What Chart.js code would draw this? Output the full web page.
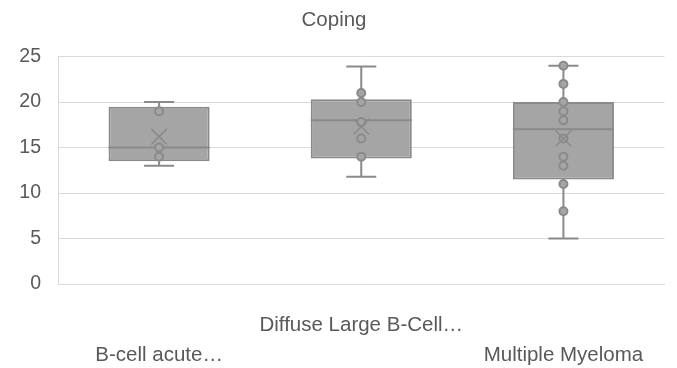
<!DOCTYPE html>
<html>
<head>
<meta charset="utf-8">
<script src="https://cdn.jsdelivr.net/npm/chart.js@4"></script>
<style>
  html, body { margin: 0; padding: 0; background: #fff; }
  #wrap { width: 677px; height: 368px; }
</style>
</head>
<body>
<div id="wrap"><canvas id="chart"></canvas></div>
<script>
// categories + box stats
const categories = ['B-cell acute…', 'Diffuse Large B-Cell…', 'Multiple Myeloma'];
const minValues = [13, 11.8, 5];
const q1Values = [13.5, 13.8, 11.5];
const medianValues = [15, 18, 17];
const q3Values = [19.5, 20.3, 20];
const maxValues = [20, 23.9, 24];
const meanValues = [16.2, 17.3, 16];
// inner points per category
const pointsBcell = [14, 15, 19];
const pointsDiffuse = [14, 16, 17.8, 20, 21];
const pointsMyeloma = [8, 11, 13, 14, 16, 18, 19, 20, 22, 24];
const yTicks = [0, 5, 10, 15, 20, 25];

const FILL = '#a5a5a5';
const EDGE = '#8a8a8a';
const TEXT = '#595959';
const GRID = '#d9d9d9';
const FONT = "'Liberation Sans', Arial, sans-serif";

// staggered labels like Excel does
const xLabels = categories.map((c, i) => i % 2 === 1 ? [c, ''] : ['', c]);

// points go on a hidden linear x axis lined up with the category centres
const pointData = [];
[pointsBcell, pointsDiffuse, pointsMyeloma].forEach((arr, i) => {
    arr.forEach(v => pointData.push({ x: i, y: v }));
});

// whiskers + median, drawn right after the boxes so points sit on top
const whiskerPlugin = {
    id: 'whiskers',
    afterDatasetDraw(chart, args) {
        if (args.index !== 2) return;
        const ctx = chart.ctx;
        const y = chart.scales.y;
        const meta = chart.getDatasetMeta(2);
        ctx.save();
        ctx.strokeStyle = EDGE;
        ctx.lineWidth = 2;
        meta.data.forEach((bar, i) => {
            const x = bar.x;
            const half = bar.width / 2;
            const cap = 15;
            ctx.beginPath();
            // upper whisker
            ctx.moveTo(x, y.getPixelForValue(q3Values[i]));
            ctx.lineTo(x, y.getPixelForValue(maxValues[i]));
            ctx.moveTo(x - cap, y.getPixelForValue(maxValues[i]));
            ctx.lineTo(x + cap, y.getPixelForValue(maxValues[i]));
            // lower whisker
            ctx.moveTo(x, y.getPixelForValue(q1Values[i]));
            ctx.lineTo(x, y.getPixelForValue(minValues[i]));
            ctx.moveTo(x - cap, y.getPixelForValue(minValues[i]));
            ctx.lineTo(x + cap, y.getPixelForValue(minValues[i]));
            // median
            ctx.moveTo(x - half, y.getPixelForValue(medianValues[i]));
            ctx.lineTo(x + half, y.getPixelForValue(medianValues[i]));
            ctx.stroke();
        });
        ctx.restore();
    }
};

new Chart(document.getElementById('chart'), {
    type: 'bar',
    data: {
        labels: xLabels,
        datasets: [
            {
                type: 'line',
                label: 'Mean',
                xAxisID: 'xp',
                data: meanValues.map((v, i) => ({ x: i, y: v })),
                showLine: false,
                pointStyle: 'crossRot',
                pointRadius: 11,
                borderColor: EDGE,
                borderWidth: 1.5,
                order: 0
            },
            {
                type: 'line',
                label: 'Points',
                xAxisID: 'xp',
                data: pointData,
                showLine: false,
                pointRadius: 4,
                backgroundColor: FILL,
                borderColor: EDGE,
                borderWidth: 2,
                order: 1
            },
            {
                label: 'Box',
                xAxisID: 'x',
                data: q1Values.map((q, i) => [q, q3Values[i]]),
                backgroundColor: FILL,
                borderColor: EDGE,
                borderWidth: 2,
                borderSkipped: false,
                barPercentage: 0.5,
                categoryPercentage: 1,
                grouped: false,
                order: 2
            }
        ]
    },
    options: {
        responsive: true,
        maintainAspectRatio: false,
        animation: false,
        layout: { padding: { left: 0, right: 9, top: 0, bottom: 0 } },
        plugins: {
            legend: { display: false },
            tooltip: { enabled: false },
            title: {
                display: true,
                text: 'Coping',
                color: TEXT,
                font: { family: FONT, size: 20.5, weight: 'normal', lineHeight: 1.2 },
                padding: { top: 8, bottom: 24 }
            }
        },
        scales: {
            x: {
                grid: { display: false, drawTicks: false },
                border: { display: true, color: GRID },
                ticks: {
                    color: TEXT,
                    font: { family: FONT, size: 20.5, lineHeight: 1.46 },
                    maxRotation: 0,
                    autoSkip: false,
                    padding: 26
                },
                afterFit(scale) { scale.height = 84; }
            },
            xp: {
                type: 'linear',
                display: false,
                offset: false,
                min: -0.5,
                max: 2.5
            },
            y: {
                min: 0,
                max: 25,
                afterBuildTicks(scale) { scale.ticks = yTicks.map(v => ({ value: v })); },
                grid: { color: GRID, drawTicks: false },
                border: { display: true, color: GRID },
                ticks: {
                    color: TEXT,
                    font: { family: FONT, size: 19.5 },
                    padding: 17
                },
                afterFit(scale) { scale.width = 58; }
            }
        }
    },
    plugins: [whiskerPlugin]
});
</script>
</body>
</html>
